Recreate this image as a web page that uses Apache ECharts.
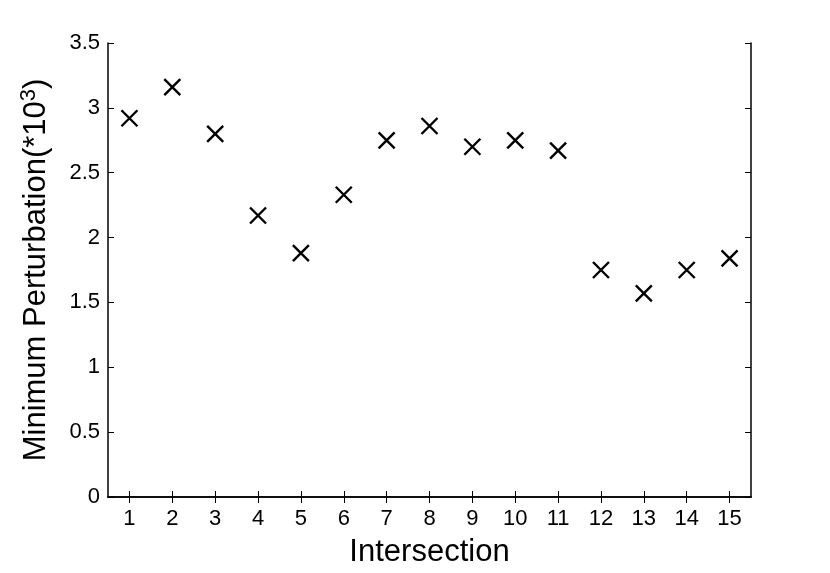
<!DOCTYPE html>
<html>
<head>
<meta charset="utf-8">
<script src="https://cdn.jsdelivr.net/npm/echarts@6/dist/echarts.min.js"></script>
<style>
  html, body { margin: 0; padding: 0; background: #fff; }
  #main { width: 830px; height: 573px; }
</style>
</head>
<body>
<div id="main"></div>
<script>
// data
var categories = ['1', '2', '3', '4', '5', '6', '7', '8', '9', '10', '11', '12', '13', '14', '15'];
var perturbation = [2.92, 3.16, 2.80, 2.17, 1.88, 2.33, 2.75, 2.86, 2.70, 2.75, 2.67, 1.75, 1.57, 1.75, 1.84];
var yTicks = [0, 0.5, 1, 1.5, 2, 2.5, 3, 3.5];

var font = 'Liberation Sans, Arial, Helvetica, sans-serif';
var chart = echarts.init(document.getElementById('main'));

var line = { show: true, lineStyle: { color: '#000', width: 1.5 } };
var tick = { show: true, inside: true, length: 6, lineStyle: { color: '#000', width: 1 } };

var option = {
  backgroundColor: '#fff',
  animation: false,
  grid: { left: 108, right: 79, top: 43, bottom: 75 },
  xAxis: [{
    type: 'category',
    data: categories,
    position: 'bottom',
    axisLine: line,
    axisTick: Object.assign({ alignWithLabel: true }, tick),
    axisLabel: { color: '#000', fontSize: 22, fontFamily: font, margin: 11 },
    splitLine: { show: false },
    name: 'Intersection',
    nameLocation: 'middle',
    nameGap: 40,
    nameTextStyle: { color: '#000', fontSize: 31, fontFamily: font }
  }, {
    type: 'category',
    data: categories,
    position: 'top',
    axisLine: line,
    axisTick: Object.assign({ alignWithLabel: true }, tick),
    axisLabel: { show: false },
    splitLine: { show: false }
  }],
  yAxis: [{
    type: 'value',
    min: yTicks[0],
    max: yTicks[yTicks.length - 1],
    interval: 0.5,
    position: 'left',
    axisLine: line,
    axisTick: tick,
    axisLabel: { color: '#000', fontSize: 22, fontFamily: font, margin: 8 },
    splitLine: { show: false },
    name: '{a|Minimum Perturbation(*10}{s|3}{a|)}',
    nameLocation: 'middle',
    nameGap: 54,
    nameTextStyle: {
      rich: {
        a: { color: '#000', fontSize: 31, fontFamily: font },
        s: { color: '#000', fontSize: 22, fontFamily: font, verticalAlign: 'top', padding: [0, 0, 14, 0] }
      }
    }
  }, {
    type: 'value',
    min: yTicks[0],
    max: yTicks[yTicks.length - 1],
    interval: 0.5,
    position: 'right',
    axisLine: line,
    axisTick: tick,
    axisLabel: { show: false },
    splitLine: { show: false }
  }],
  series: [{
    type: 'scatter',
    xAxisIndex: 0,
    yAxisIndex: 0,
    data: perturbation,
    symbol: 'path://M0,0L10,10M10,0L0,10',
    symbolSize: 16,
    itemStyle: { color: '#000', borderColor: '#000', borderWidth: 2.4, opacity: 1 }
  }]
};

chart.setOption(option);
</script>
</body>
</html>
